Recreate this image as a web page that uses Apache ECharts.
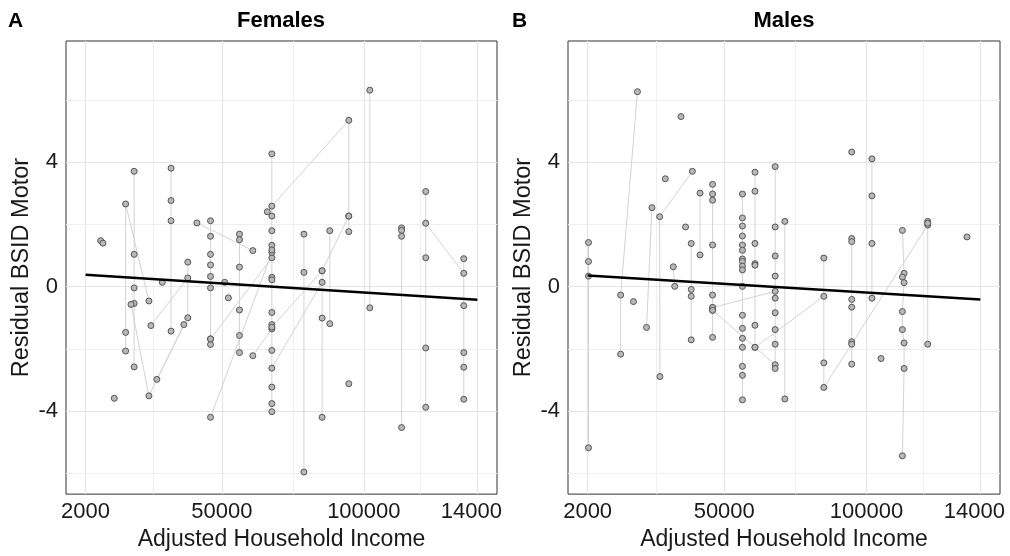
<!DOCTYPE html>
<html>
<head>
<meta charset="utf-8">
<title>Residual BSID Motor by income</title>
<style>
  html, body { margin: 0; padding: 0; background: #fff; }
  #main { width: 1010px; height: 556px; }
</style>
</head>
<body>
<div id="main"></div>
<script src="https://cdn.jsdelivr.net/npm/echarts@6/dist/echarts.min.js"></script>
<script>
var FONT = '"Liberation Sans", Arial, sans-serif';

// axis breaks
var incomeTicks = [2000, 50000, 100000, 140000];
var incomeTickLabels = ['2000', '50000', '100000', '14000'];
var incomeMinor = [26000, 75000, 120000];
var residualTicks = [-4, 0, 4];
var residualMinor = [-6, -2, 2, 6];

// fitted line ends
var fitIncome = [2000, 140000];
var femaleFit = [0.38, -0.42];
var maleFit = [0.36, -0.41];

// one entry per child: [income, residual] visits, joined in this order
var femaleTracks = [
  [[7300, 1.48]],
  [[8100, 1.40]],
  [[12100, -3.59]],
  [[16100, -2.07], [16100, -1.47], [16100, 2.66], [24300, -0.46]],
  [[19100, 3.71], [19100, 1.04], [19100, -0.04], [19100, -0.54], [19100, -2.58]],
  [[18000, -0.57], [24300, -3.51], [36600, -1.22]],
  [[25000, -1.25], [38000, 0.28]],
  [[27100, -2.98], [38000, -1.00], [38000, 0.79]],
  [[29000, 0.14]],
  [[32100, 3.81], [32100, 2.77], [32100, 2.12], [32100, -1.43]],
  [[41200, 2.05], [60900, 1.16]],
  [[46000, 2.12], [46000, 1.62], [46000, 1.04], [46000, 0.70], [46000, 0.33], [46000, -0.04], [46000, -1.68], [46000, -1.86]],
  [[46000, -1.68], [67600, 0.93]],
  [[46000, -4.20], [67600, 1.10]],
  [[51000, 0.14]],
  [[52300, -0.36]],
  [[56200, 1.69], [56200, 1.51], [56200, 0.63], [56200, -0.75], [56200, -1.57], [56200, -2.12]],
  [[60900, -2.22], [67600, -1.36]],
  [[66000, 2.41]],
  [[67600, 4.27], [67600, 2.27], [67600, 1.80], [67600, 1.33], [67600, 1.18], [67600, 0.30], [67600, 0.22], [67600, -0.83], [67600, -1.22], [67600, -2.05], [67600, -3.23], [67600, -3.76], [67600, -4.02]],
  [[67600, 2.59], [94700, 5.35], [94700, 2.27], [94700, 1.77]],
  [[67600, -1.30], [85300, 0.51], [94700, 2.27]],
  [[67600, -2.62], [85300, 0.14]],
  [[78900, 1.69], [78900, 0.46], [78900, -5.96]],
  [[85300, 0.51], [85300, -1.01], [85300, -4.20]],
  [[88000, 1.80], [88000, -1.19]],
  [[94700, -3.12]],
  [[102100, 6.32], [102100, -0.68]],
  [[113300, 1.89], [113300, 1.81], [113300, 1.62], [113300, -4.53]],
  [[121800, 3.06], [121800, 0.93], [121800, -1.97], [121800, -3.88]],
  [[121800, 2.04], [135200, 0.43]],
  [[135200, 0.90], [135200, -0.61], [135200, -2.12], [135200, -2.59], [135200, -3.62]]
];

var maleTracks = [
  [[2300, 1.42], [2300, 0.81], [2300, 0.34], [2300, -5.18]],
  [[13600, -2.17], [13600, -0.27], [19500, 6.27]],
  [[18100, -0.48]],
  [[24600, 2.54], [22700, -1.31]],
  [[27400, -2.89], [27300, 2.25], [38800, 3.71]],
  [[29300, 3.47]],
  [[34800, 5.47]],
  [[32100, 0.64], [32600, 0.01]],
  [[36400, 1.92]],
  [[38400, 1.39], [38400, -0.09], [38400, -0.31], [38400, -1.71]],
  [[41500, 3.01], [41500, 1.02]],
  [[45900, 3.29], [45900, 2.98], [45900, 2.78], [45900, 1.34], [45900, -0.27], [45900, -0.67], [45900, -0.76], [45900, -1.63]],
  [[45900, -0.67], [67900, -0.15]],
  [[45900, -0.76], [67900, -2.51]],
  [[56400, 2.98], [56400, 2.21], [56400, 1.95], [56400, 1.63], [56400, 1.34], [56400, 1.17], [56400, 0.89], [56400, 0.81], [56400, 0.66], [56400, 0.54], [56400, 0.01], [56400, -0.92], [56400, -1.34], [56400, -1.66], [56400, -1.95], [56400, -2.56], [56400, -2.85], [56400, -3.64]],
  [[60800, 3.68], [60800, 3.07], [60800, 1.39], [60800, 0.74], [60800, 0.69], [60800, -1.24], [60800, -1.95]],
  [[60800, -1.95], [85000, -0.31]],
  [[67900, 3.86], [67900, 1.92], [67900, 0.99], [67900, 0.34], [67900, -0.37], [67900, -0.84], [67900, -1.38], [67900, -1.85], [67900, -2.63]],
  [[71300, 2.10], [71300, -3.61]],
  [[85000, 0.92], [85000, -2.45], [85000, -3.24], [121500, 1.98]],
  [[94800, 4.33]],
  [[94800, 1.55], [94800, 1.45], [94800, -0.41], [94800, -0.66], [94800, -1.77], [94800, -1.85], [94800, -2.49]],
  [[101900, 4.11], [101900, 2.92], [101900, 1.39], [101900, -0.37]],
  [[105100, -2.31]],
  [[112600, 1.81], [113200, 0.43], [112600, 0.31], [113200, 0.13], [112600, -0.80], [112600, -1.38], [113200, -1.81], [113200, -2.63], [112600, -5.44]],
  [[121500, 2.10], [121500, 2.04], [121500, -1.85]],
  [[135300, 1.60]]
];

var myChart = echarts.init(document.getElementById('main'));

var grids = [
  { left: 66, top: 41, width: 431, height: 456 },
  { left: 568, top: 41, width: 432, height: 456 }
];

function xAxisFor(i) {
  return {
    gridIndex: i,
    type: 'value',
    min: -4900,
    max: 146900,
    axisLine: { show: false },
    splitLine: { show: false },
    axisTick: { show: true, length: 4, customValues: incomeTicks, lineStyle: { color: '#333', width: 1 } },
    axisLabel: {
      customValues: incomeTicks,
      margin: 7,
      color: '#1a1a1a',
      fontSize: 22,
      fontFamily: FONT,
      formatter: function (v) {
        var k = incomeTicks.indexOf(v);
        // the last break label is cut short in the original
        return k === incomeTicks.length - 1 ? '{cut|' + incomeTickLabels[k] + '}' : incomeTickLabels[k];
      },
      rich: { cut: { fontSize: 22, fontFamily: FONT, color: '#1a1a1a', padding: [0, 12, 0, 0] } }
    },
    name: 'Adjusted Household Income',
    nameLocation: 'middle',
    nameGap: 32,
    nameTextStyle: { fontSize: 23, fontFamily: FONT, color: '#1a1a1a' }
  };
}

function yAxisFor(i) {
  return {
    gridIndex: i,
    type: 'value',
    min: -6.67,
    max: 7.9,
    axisLine: { show: false },
    splitLine: { show: false },
    axisTick: { show: true, length: 4, customValues: residualTicks, lineStyle: { color: '#333', width: 1 } },
    axisLabel: {
      customValues: residualTicks,
      margin: 8,
      color: '#1a1a1a',
      fontSize: 22,
      fontFamily: FONT,
      formatter: function (v) { return String(v); }
    },
    name: 'Residual BSID Motor',
    nameLocation: 'middle',
    nameGap: 32,
    nameTextStyle: { fontSize: 23.5, fontFamily: FONT, color: '#1a1a1a' }
  };
}

var series = [];

function addPanel(i, tracks, fit) {
  var major = { color: '#e5e5e5', width: 1.2, type: 'solid' };
  var minor = { color: '#efefef', width: 1, type: 'solid' };
  var gridLines = [];
  incomeTicks.forEach(function (v) { gridLines.push({ xAxis: v, lineStyle: major }); });
  incomeMinor.forEach(function (v) { gridLines.push({ xAxis: v, lineStyle: minor }); });
  residualTicks.forEach(function (v) { gridLines.push({ yAxis: v, lineStyle: major }); });
  residualMinor.forEach(function (v) { gridLines.push({ yAxis: v, lineStyle: minor }); });

  tracks.forEach(function (t) {
    series.push({
      type: 'line',
      xAxisIndex: i,
      yAxisIndex: i,
      data: t,
      symbol: 'none',
      lineStyle: { color: '#d3d3d3', width: 1 },
      silent: true,
      z: 2
    });
  });

  var pts = [];
  tracks.forEach(function (t) { t.forEach(function (p) { pts.push(p); }); });
  series.push({
    type: 'scatter',
    xAxisIndex: i,
    yAxisIndex: i,
    data: pts,
    symbolSize: 6,
    itemStyle: { color: '#b8b8b8', borderColor: '#555', borderWidth: 1, opacity: 1 },
    silent: true,
    z: 3
  });

  series.push({
    type: 'line',
    xAxisIndex: i,
    yAxisIndex: i,
    data: fitIncome.map(function (x, k) { return [x, fit[k]]; }),
    symbol: 'none',
    lineStyle: { color: '#000', width: 2.5 },
    silent: true,
    z: 4,
    markLine: {
      silent: true,
      z: 1,
      symbol: ['none', 'none'],
      label: { show: false },
      emphasis: { disabled: true },
      lineStyle: { type: 'solid' },
      animation: false,
      data: gridLines
    }
  });
}

addPanel(0, femaleTracks, femaleFit);
addPanel(1, maleTracks, maleFit);

var option = {
  backgroundColor: '#fff',
  animation: false,
  grid: grids.map(function (g) {
    return Object.assign({ show: true, backgroundColor: '#fff', borderColor: '#333', borderWidth: 1 }, g);
  }),
  xAxis: [xAxisFor(0), xAxisFor(1)],
  yAxis: [yAxisFor(0), yAxisFor(1)],
  graphic: [
    { type: 'text', x: 8, y: 21, style: { text: 'A', fontSize: 21, fontWeight: 'bold', fontFamily: FONT, fill: '#000', align: 'left', verticalAlign: 'middle' } },
    { type: 'text', x: 512, y: 21, style: { text: 'B', fontSize: 21, fontWeight: 'bold', fontFamily: FONT, fill: '#000', align: 'left', verticalAlign: 'middle' } },
    { type: 'text', x: 281, y: 21, style: { text: 'Females', fontSize: 22, fontWeight: 'bold', fontFamily: FONT, fill: '#000', align: 'center', verticalAlign: 'middle' } },
    { type: 'text', x: 784, y: 21, style: { text: 'Males', fontSize: 22, fontWeight: 'bold', fontFamily: FONT, fill: '#000', align: 'center', verticalAlign: 'middle' } }
  ],
  series: series
};

myChart.setOption(option);
</script>
</body>
</html>
